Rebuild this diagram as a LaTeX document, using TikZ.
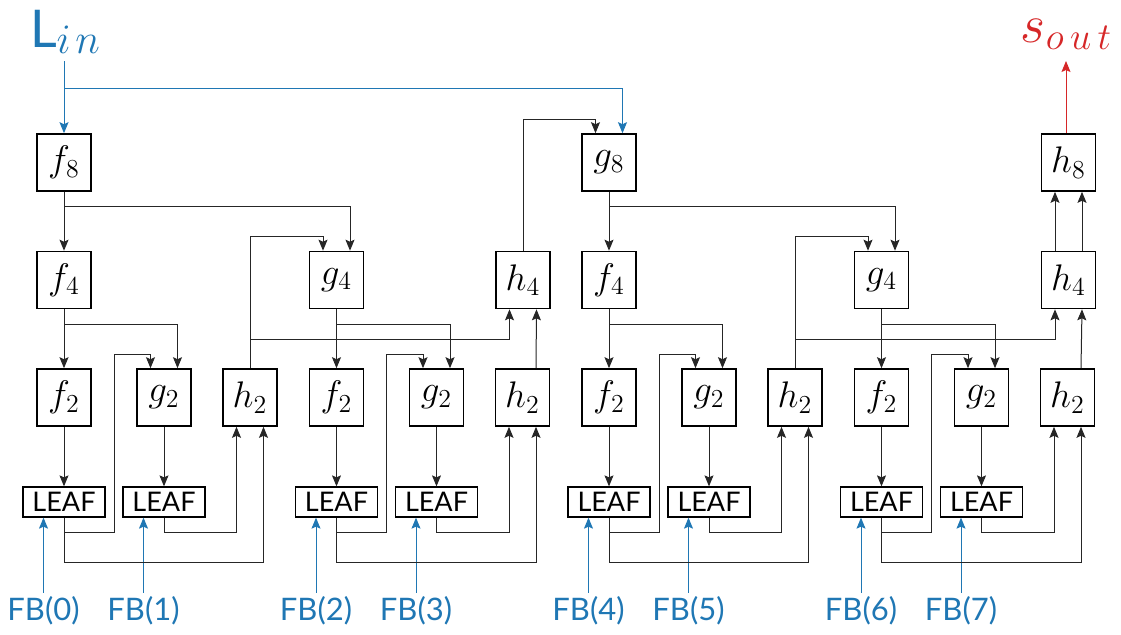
\RequirePackage{fix-cm}
\documentclass[tikz,border=0pt]{standalone}
\usepackage{fontspec}
\newfontfamily\lab{Lato}
\usetikzlibrary{arrows.meta,calc}
\definecolor{cblue}{RGB}{31,119,180}
\definecolor{cred}{RGB}{214,39,40}
\begin{document}
\begin{tikzpicture}[x=0.5pt,y=-0.5pt,
  box/.style={draw=black,line width=0.8pt,minimum width=27pt,minimum height=28.5pt,inner sep=0pt,font=\fontsize{18.5}{20}\selectfont},
  leaf/.style={draw=black,line width=0.65pt,minimum width=41pt,minimum height=15pt,inner sep=0pt,font=\lab\fontsize{13.5}{14}\selectfont},
  fb/.style={text=cblue,font=\lab\fontsize{15.5}{17}\selectfont,anchor=north,inner sep=1.5pt},
  wire/.style={draw=black!85,line width=0.5pt,-{Stealth[length=5.5pt,width=4.5pt,inset=1pt]}},
  bwire/.style={wire,draw=cblue},
  rwire/.style={wire,draw=cred}]
\useasboundingbox (0,0) rectangle (1121,634);
% top row
\node[box] (f8) at (64,162.5) {$f_8$};
\node[box] (g8) at (609,162.5) {$g_8$};
\node[box] (h8) at (1068.5,162.5) {$h_8$};
% second row
\node[box] (f4a) at (64,280) {$f_4$};
\node[box] (g4a) at (336.5,280) {$g_4$};
\node[box] (h4a) at (523,280) {$h_4$};
\node[box] (f4b) at (609,280) {$f_4$};
\node[box] (g4b) at (881.5,280) {$g_4$};
\node[box] (h4b) at (1068.5,280) {$h_4$};
% third row and leaves
\foreach \s/\o in {a/0,b/272.5,c/545,d/817.5} {
  \node[box] (f2\s) at (64+\o,397.5) {$f_2$};
  \node[box] (g2\s) at (164+\o,397.5) {$g_2$};
  \node[box] (h2\s) at (250+\o,397.5) {$h_2$};
  \node[leaf] (l\s1) at (64+\o,502) {LEAF};
  \node[leaf] (l\s2) at (164+\o,502) {LEAF};
}
% labels
\node[text=cblue,anchor=base] (lin) at (65,47)
  {\lab\fontsize{26}{28}\selectfont L\fontsize{21}{22}\selectfont\raisebox{-3pt}{$i\mkern2mu n$}};
\node[text=cred,anchor=base] (sout) at (1066,42)
  {\fontsize{27}{30}\selectfont$s$\fontsize{19}{21}\selectfont\raisebox{-3.5pt}{$o\mkern3mu u\mkern3mu t$}};
\coordinate (linpt) at (64,61);
\coordinate (soutpt) at (1066,61);
% FB inputs
\foreach \l/\n in {la1/0,la2/1,lb1/2,lb2/3,lc1/4,lc2/5,ld1/6,ld2/7} {
  \node[fb] (fb\n) at ($(\l.south)+(-20.5,75)$) {FB(\n)};
  \draw[bwire] (fb\n.north) -- (fb\n.north |- \l.south);
}
% per-group wiring
\foreach \s/\t in {a/f4a,b/g4a,c/f4b,d/g4b} {
  \coordinate (gl\s) at ($(g2\s.north)+(-13.5,0)$);
  \coordinate (gr\s) at ($(g2\s.north)+(13.5,0)$);
  \coordinate (hl\s) at ($(h2\s.south)+(-13.5,0)$);
  \coordinate (hr\s) at ($(h2\s.south)+(13.5,0)$);
  \coordinate (u\s) at ($(g2\s.center)+(-50,0)$);
  \draw[wire] (\t.south) -- (f2\s.north);
  \draw[wire] (\t.south |- 0,324) -| (gr\s);
  \draw[wire] (f2\s.south) -- (l\s1.north);
  \draw[wire] (g2\s.south) -- (l\s2.north);
  \draw[wire] (l\s1.south) -- (l\s1.south |- 0,532) -| (u\s |- 0,354) -| (gl\s);
  \draw[wire] (l\s1.south) -- (l\s1.south |- 0,562.7) -| (hr\s);
  \draw[wire] (l\s2.south) -- (l\s2.south |- 0,532) -| (hl\s);
}
% upper wiring
\coordinate (g8l) at ($(g8.north)+(-13.5,0)$);
\coordinate (g8r) at ($(g8.north)+(13.5,0)$);
\coordinate (g4al) at ($(g4a.north)+(-13.5,0)$);
\coordinate (g4ar) at ($(g4a.north)+(13.5,0)$);
\coordinate (g4bl) at ($(g4b.north)+(-13.5,0)$);
\coordinate (g4br) at ($(g4b.north)+(13.5,0)$);
\coordinate (h4al) at ($(h4a.south)+(-13.5,0)$);
\coordinate (h4bl) at ($(h4b.south)+(-13.5,0)$);
\draw[bwire] (linpt) -- (f8.north);
\draw[bwire] (linpt |- 0,88.3) -| (g8r);
\draw[wire] (f8.south) -- (f4a.north);
\draw[wire] (f8.south |- 0,206) -| (g4ar);
\draw[wire] (h2a.north) |- (g4al |- 0,236.7) -- (g4al);
\draw[wire] (h2a.north |- 0,339) -| (h4al);
\draw[wire] ($(h2b.north)+(13.5,0)$) -- ($(h4a.south)+(13.5,0)$);
\draw[wire] (h4a.north) |- (g8l |- 0,119) -- (g8l);
\draw[wire] (g8.south) -- (f4b.north);
\draw[wire] (g8.south |- 0,206) -| (g4br);
\draw[wire] (h2c.north) |- (g4bl |- 0,236.7) -- (g4bl);
\draw[wire] (h2c.north |- 0,339) -| (h4bl);
\draw[wire] ($(h2d.north)+(13.5,0)$) -- ($(h4b.south)+(13.5,0)$);
\draw[wire] ($(h4b.north)+(-13.5,0)$) -- ($(h8.south)+(-13.5,0)$);
\draw[wire] ($(h4b.north)+(13.5,0)$) -- ($(h8.south)+(13.5,0)$);
\draw[rwire] (soutpt |- h8.north) -- (soutpt);
\end{tikzpicture}
\end{document}
